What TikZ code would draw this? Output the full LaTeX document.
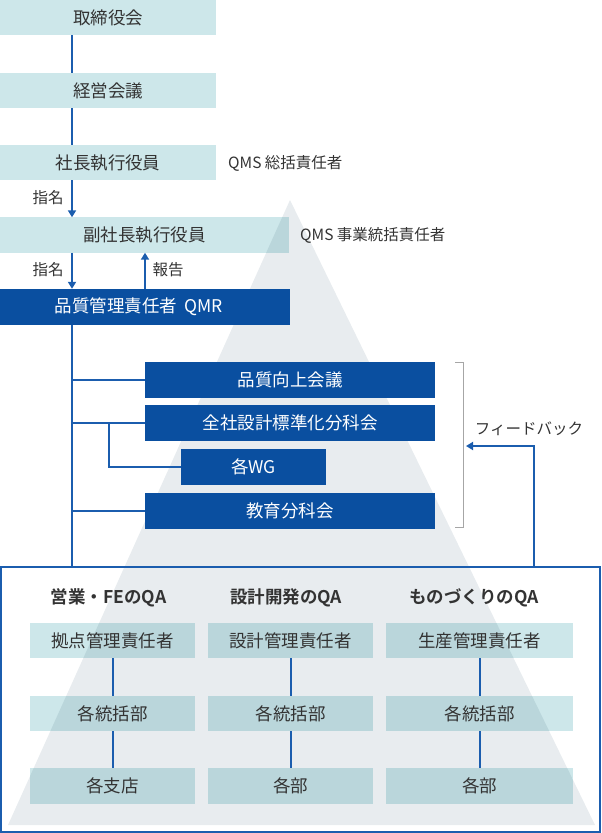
\documentclass[tikz,border=0pt]{standalone}
\usepackage{fontspec}
\setmainfont{Noto Sans CJK JP}[BoldFont={Noto Sans CJK JP Bold}]
\usetikzlibrary{arrows.meta,calc}
\definecolor{tealL}{HTML}{CDE7EA}
\definecolor{tealD}{HTML}{BAD6DB}
\definecolor{triC}{HTML}{E8ECEF}
\definecolor{navy}{HTML}{0A4FA0}
\definecolor{lineB}{HTML}{1B5DAE}
\definecolor{txt}{HTML}{333333}
\definecolor{brk}{HTML}{A6A6A6}
\pgfdeclarelayer{background}
\pgfsetlayers{background,main}
\begin{document}
\begin{tikzpicture}[x=1pt,y=-1pt,
  tbox/.style={inner sep=0pt, text=txt, minimum height=35pt, font=\fontsize{17.5}{21}\selectfont},
  nbox/.style={inner sep=0pt, fill=navy, text=white, minimum height=36pt, font=\fontsize{17.5}{21}\selectfont},
  lab/.style={inner sep=0pt, text=txt, font=\fontsize{15.5}{18}\selectfont},
  head/.style={inner sep=0pt, text=txt, font=\bfseries\fontsize{17.5}{21}\selectfont},
  conn/.style={draw=lineB, line width=2pt},
  arr/.style={conn, -{Triangle[width=8pt,length=7pt]}}]
\useasboundingbox (0,0) rectangle (602,833);
% coordinates for connector columns
\coordinate (trunk) at (72,0);
\coordinate (rep) at (145,0);
\coordinate (sub) at (109,0);
\coordinate (fbx) at (533.5,0);
\coordinate (fbtip) at (466,446);
% top chain
\node[tbox, minimum width=216pt] (b1) at (108,17.5) {取締役会};
\node[tbox, minimum width=216pt] (b2) at (108,90.5) {経営会議};
\node[tbox, minimum width=216pt] (b3) at (108,162.5) {社長執行役員};
\node[tbox, minimum width=289pt] (b4) at (144.5,235) {副社長執行役員};
\node[nbox, minimum width=290pt,
  label={[inner sep=0pt, text=white, font=\fontsize{17.5}{21}\selectfont, xshift=-6.5pt]center:品質管理責任者\hspace{3pt} QMR}] (qmr) at (145,307) {};
\node[lab, anchor=west] (l1) at (228,163) {QMS 総括責任者};
\node[lab, anchor=west] (l2) at (300,235) {QMS 事業統括責任者};
\node[lab] (n1) at (48,198) {指名};
\node[lab] (n2) at (48,270) {指名};
\node[lab] (rp) at (168,270) {報告};
% committees
\node[nbox, minimum width=290pt] (q1) at (290,380) {品質向上会議};
\node[nbox, minimum width=290pt] (q2) at (290,423) {全社設計標準化分科会};
\node[nbox, minimum width=145pt] (wg) at (253.5,467) {各WG};
\node[nbox, minimum width=290pt] (q4) at (290,510.5) {教育分科会};
\node[lab] (fb) at (529,429) {フィードバック};
% outer frame
\node[draw=lineB, line width=2pt, minimum width=599pt, minimum height=265pt, inner sep=0pt] (outer) at (300.5,699) {};
\node[head] (h1) at (108.5,598) {営業・FEのQA};
\node[head] (h2) at (286,598) {設計開発のQA};
\node[head] (h3) at (474,598) {ものづくりのQA};
\node[tbox, minimum width=165pt] (c11) at (112.5,640.5) {拠点管理責任者};
\node[tbox, minimum width=165pt] (c12) at (112.5,713.5) {各統括部};
\node[tbox, minimum width=165pt] (c13) at (112.5,786) {各支店};
\node[tbox, minimum width=165pt] (c21) at (290.5,640.5) {設計管理責任者};
\node[tbox, minimum width=165pt] (c22) at (290.5,713.5) {各統括部};
\node[tbox, minimum width=165pt] (c23) at (290.5,786) {各部};
\node[tbox, minimum width=187pt] (c31) at (479.5,640.5) {生産管理責任者};
\node[tbox, minimum width=187pt] (c32) at (479.5,713.5) {各統括部};
\node[tbox, minimum width=187pt] (c33) at (479.5,786) {各部};
% background: triangle and box fills
\begin{pgfonlayer}{background}
\fill[triC] (290,200) -- (8,825) -- (595,825) -- cycle;
\foreach \n in {b1,b2,b3,b4,c11,c12,c13,c21,c22,c23,c31,c32,c33}
  \fill[tealL] (\n.south west) rectangle (\n.north east);
\begin{scope}
\clip (290,200) -- (8,825) -- (595,825) -- cycle;
\foreach \n in {b1,b2,b3,b4,c11,c12,c13,c21,c22,c23,c31,c32,c33}
  \fill[tealD] (\n.south west) rectangle (\n.north east);
\end{scope}
\end{pgfonlayer}
% connectors
\draw[conn] (b1.south -| trunk) -- (b2.north -| trunk);
\draw[conn] (b2.south -| trunk) -- (b3.north -| trunk);
\draw[arr] (b3.south -| trunk) -- (b4.north -| trunk);
\draw[arr] (b4.south -| trunk) -- (qmr.north -| trunk);
\draw[arr] (qmr.north -| rep) -- (b4.south -| rep);
\draw[conn] (qmr.south -| trunk) -- (outer.north -| trunk);
\draw[conn] (trunk |- q1.west) -- (q1.west);
\draw[conn] (trunk |- q2.west) -- (q2.west);
\draw[conn] (trunk |- q4.west) -- (q4.west);
\draw[conn] (sub |- q2.west) |- (wg.west);
\draw[arr] (outer.north -| fbx) |- (fbtip);
\draw[brk, line width=1pt] (455,362.5) -- (463.5,362.5) -- (463.5,527.5) -- (455,527.5);
\draw[conn] (c11.south) -- (c12.north);
\draw[conn] (c12.south) -- (c13.north);
\draw[conn] (c21.south) -- (c22.north);
\draw[conn] (c22.south) -- (c23.north);
\draw[conn] (c31.south) -- (c32.north);
\draw[conn] (c32.south) -- (c33.north);
\end{tikzpicture}
\end{document}
